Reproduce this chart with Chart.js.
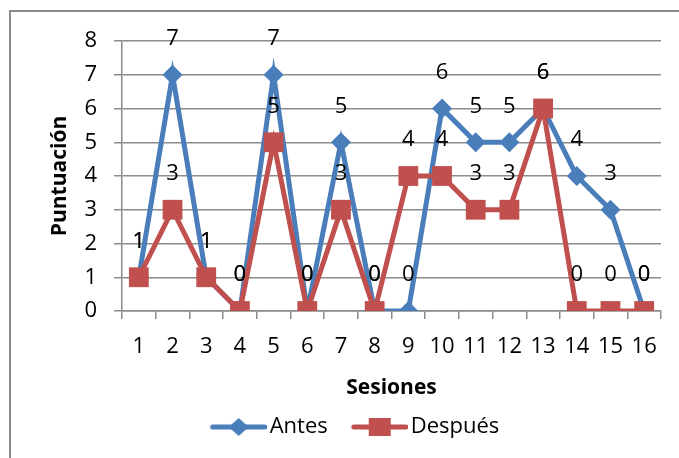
<!DOCTYPE html>
<html>
<head>
<meta charset="utf-8">
<script src="https://cdn.jsdelivr.net/npm/chart.js@4"></script>
<style>
  html, body { margin: 0; padding: 0; background: #fff; }
  #wrap { width: 679px; height: 458px; }
</style>
</head>
<body>
<div id="wrap"><canvas id="c" width="679" height="458"></canvas></div>
<script>
const sessions = ['1','2','3','4','5','6','7','8','9','10','11','12','13','14','15','16'];
const antes   = [1, 7, 1, 0, 7, 0, 5, 0, 0, 6, 5, 5, 6, 4, 3, 0];
const despues = [1, 3, 1, 0, 5, 0, 3, 0, 4, 4, 3, 3, 6, 0, 0, 0];
const yTicks  = [0, 1, 2, 3, 4, 5, 6, 7, 8];

const BLUE = '#4a7ebb';
const RED = '#c0504d';
const GRID = '#8c8c8c';
const FONT = "'Open Sans', 'DejaVu Sans', sans-serif";

// Small legend swatch: line segment with the series marker in the middle
function swatch(color, marker) {
  const cv = document.createElement('canvas');
  cv.width = 72; cv.height = 24;
  const g = cv.getContext('2d');
  const x0 = 18, x1 = 70, cx = (x0 + x1) / 2;
  g.strokeStyle = color; g.lineWidth = 5; g.lineCap = 'round';
  g.beginPath(); g.moveTo(x0, 12); g.lineTo(x1, 12); g.stroke();
  g.fillStyle = color;
  g.beginPath();
  if (marker === 'diamond') {
    g.moveTo(cx - 10, 12); g.lineTo(cx, 3); g.lineTo(cx + 10, 12); g.lineTo(cx, 21);
  } else {
    g.rect(cx - 11, 3, 22, 18);
  }
  g.closePath(); g.fill();
  return cv;
}
const swatches = [swatch(BLUE, 'diamond'), swatch(RED, 'square')];

// Outer frame of the chart
const framePlugin = {
  id: 'frame',
  beforeDraw(chart) {
    const ctx = chart.ctx;
    ctx.save();
    ctx.fillStyle = '#fff';
    ctx.fillRect(0, 0, chart.width, chart.height);
    ctx.strokeStyle = '#8a8a8a';
    ctx.lineWidth = 2;
    ctx.strokeRect(10, 11, chart.width + 20, chart.height + 20);
    ctx.restore();
  }
};

// Value labels above every point
const valueLabels = {
  id: 'valueLabels',
  afterDatasetsDraw(chart) {
    const ctx = chart.ctx;
    ctx.save();
    ctx.font = '22px ' + FONT;
    ctx.fillStyle = '#000';
    ctx.textAlign = 'center';
    ctx.textBaseline = 'middle';
    chart.data.datasets.forEach((ds, i) => {
      const meta = chart.getDatasetMeta(i);
      meta.data.forEach((pt, j) => {
        ctx.fillText(String(ds.data[j]), pt.x, pt.y - 36);
      });
    });
    ctx.restore();
  }
};

new Chart(document.getElementById('c'), {
  type: 'line',
  data: {
    labels: sessions,
    datasets: [
      {
        label: 'Antes',
        data: antes,
        borderColor: BLUE,
        backgroundColor: BLUE,
        borderWidth: 5,
        pointStyle: 'rectRot',
        pointRadius: 10,
        pointHoverRadius: 10,
        pointBorderWidth: 0,
        tension: 0,
        order: 1
      },
      {
        label: 'Después',
        data: despues,
        borderColor: RED,
        backgroundColor: RED,
        borderWidth: 5,
        pointStyle: 'rect',
        pointRadius: 14,
        pointHoverRadius: 14,
        pointBorderWidth: 0,
        tension: 0,
        order: 0
      }
    ]
  },
  options: {
    responsive: false,
    animation: false,
    events: [],
    layout: { padding: { top: 41, left: 41, right: 18, bottom: 10 } },
    scales: {
      x: {
        offset: true,
        grid: {
          offset: true,
          drawOnChartArea: false,
          drawTicks: true,
          tickLength: 8,
          color: GRID,
          lineWidth: 1.5
        },
        border: { color: GRID, width: 1.5 },
        ticks: {
          color: '#000',
          font: { family: FONT, size: 22 },
          padding: 15,
          maxRotation: 0,
          autoSkip: false
        },
        title: {
          display: true,
          text: 'Sesiones',
          color: '#000',
          font: { family: FONT, size: 21, weight: 'bold' },
          padding: { top: 0, bottom: -1 }
        },
        afterFit(scale) { scale.height = 89; }
      },
      y: {
        min: 0,
        max: 8,
        afterBuildTicks(scale) { scale.ticks = yTicks.map(v => ({ value: v })); },
        grid: {
          color: GRID,
          lineWidth: 1.5,
          drawTicks: true,
          tickLength: 8
        },
        border: { color: GRID, width: 1.5 },
        ticks: {
          color: '#000',
          font: { family: FONT, size: 22 },
          padding: 17
        },
        title: {
          display: true,
          text: 'Puntuación',
          color: '#000',
          font: { family: FONT, size: 21, weight: 'bold' },
          padding: { top: 6, bottom: 0 }
        },
        afterFit(scale) { scale.width = 81; }
      }
    },
    plugins: {
      tooltip: { enabled: false },
      legend: {
        position: 'bottom',
        labels: {
          usePointStyle: true,
          pointStyleWidth: 56,
          padding: 16,
          color: '#000',
          font: { family: FONT, size: 22 },
          generateLabels(chart) {
            return chart.data.datasets.map((ds, i) => ({
              text: ds.label,
              pointStyle: swatches[i],
              fillStyle: ds.borderColor,
              strokeStyle: ds.borderColor,
              lineWidth: 0,
              hidden: false,
              datasetIndex: i,
              fontColor: '#000'
            }));
          }
        }
      }
    }
  },
  plugins: [framePlugin, valueLabels]
});
</script>
</body>
</html>
